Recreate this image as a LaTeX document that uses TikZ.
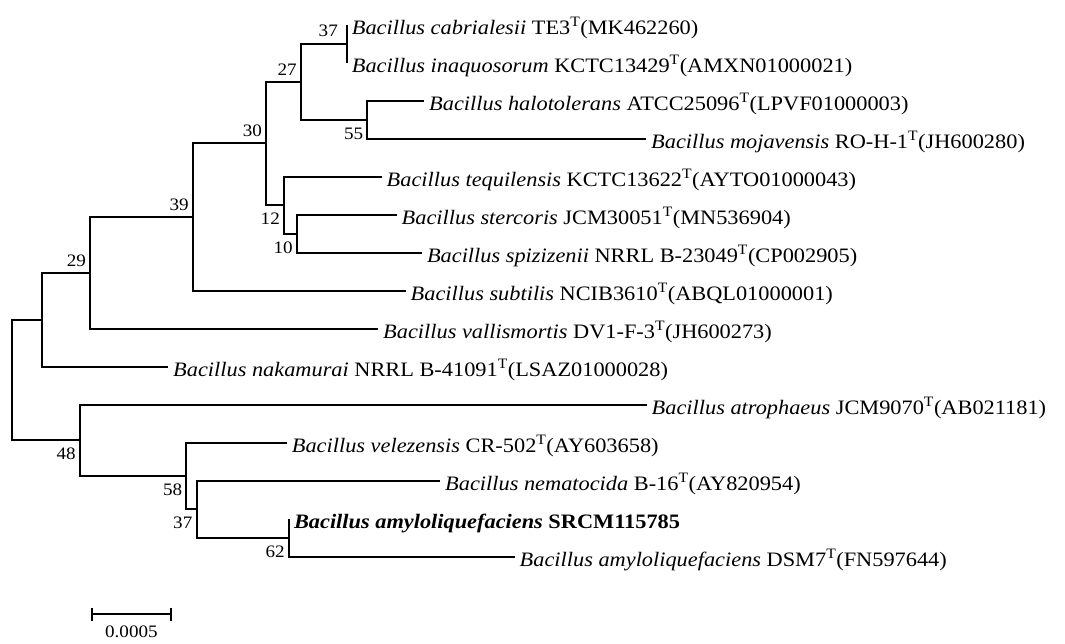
\documentclass[tikz,border=0pt]{standalone}
\usepackage{fontspec}
\setmainfont{Liberation Serif}[FakeStretch=1.09]
\begin{document}
\begin{tikzpicture}[x=1pt,y=-1pt,
  br/.style={line width=2pt, line join=miter},
  leaf/.style={anchor=west, inner xsep=5pt, inner ysep=0pt, text height=19pt, text depth=0pt, font=\fontsize{20.5}{20.5}\selectfont},
  bs/.style={inner sep=0pt, font=\fontsize{17.5}{17.5}\selectfont},
  bsa/.style={anchor=south east, xshift=-4pt, yshift=6pt},
  bsb/.style={anchor=north east, xshift=-4pt, yshift=-8pt}]
\useasboundingbox (0,0) rectangle (1065,643);
% internal nodes
\coordinate (root) at (12.4,379.9);
\coordinate (nA) at (42.4,319.6);
\coordinate (n29) at (90.2,272.7);
\coordinate (n39) at (192.8,216.9);
\coordinate (n30) at (266.2,143.3);
\coordinate (n27) at (300.8,81.5);
\coordinate (n37a) at (346.7,43.5);
\coordinate (n55) at (367.3,119.5);
\coordinate (n12) at (284,205);
\coordinate (n10) at (296.8,233.5);
\coordinate (n48) at (79.9,440.1);
\coordinate (n58) at (186.4,475.75);
\coordinate (n37b) at (196.5,509);
\coordinate (n62) at (288.8,537.5);
% leaves
\node[leaf] (L1) at (346.7,24.5) {\textit{Bacillus cabrialesii} TE3\textsuperscript{T}(MK462260)};
\node[leaf] (L2) at (346.7,62.5) {\textit{Bacillus inaquosorum} KCTC13429\textsuperscript{T}(AMXN01000021)};
\node[leaf] (L3) at (424,100.5) {\textit{Bacillus halotolerans} ATCC25096\textsuperscript{T}(LPVF01000003)};
\node[leaf] (L4) at (646,138.5) {\textit{Bacillus mojavensis} RO-H-1\textsuperscript{T}(JH600280)};
\node[leaf] (L5) at (381.5,176.5) {\textit{Bacillus tequilensis} KCTC13622\textsuperscript{T}(AYTO01000043)};
\node[leaf] (L6) at (396.5,214.5) {\textit{Bacillus stercoris} JCM30051\textsuperscript{T}(MN536904)};
\node[leaf] (L7) at (421.8,252.5) {\textit{Bacillus spizizenii} NRRL B-23049\textsuperscript{T}(CP002905)};
\node[leaf] (L8) at (405.5,290.5) {\textit{Bacillus subtilis} NCIB3610\textsuperscript{T}(ABQL01000001)};
\node[leaf] (L9) at (378,328.5) {\textit{Bacillus vallismortis} DV1-F-3\textsuperscript{T}(JH600273)};
\node[leaf] (L10) at (168,366.5) {\textit{Bacillus nakamurai} NRRL B-41091\textsuperscript{T}(LSAZ01000028)};
\node[leaf] (L11) at (646.5,404.5) {\textit{Bacillus atrophaeus} JCM9070\textsuperscript{T}(AB021181)};
\node[leaf] (L12) at (286.7,442.5) {\textit{Bacillus velezensis} CR-502\textsuperscript{T}(AY603658)};
\node[leaf] (L13) at (440,480.5) {\textit{Bacillus nematocida} B-16\textsuperscript{T}(AY820954)};
\node[leaf] (L14) at (288.8,518.5) {\textbf{\textit{Bacillus amyloliquefaciens} SRCM115785}};
\node[leaf] (L15) at (514.5,556.5) {\textit{Bacillus amyloliquefaciens} DSM7\textsuperscript{T}(FN597644)};
% branches
\draw[br] (root) |- (nA);
\draw[br] (root) |- (n48);
\draw[br] (nA) |- (n29);
\draw[br] (nA) |- (L10.west);
\draw[br] (n29) |- (n39);
\draw[br] (n29) |- (L9.west);
\draw[br] (n39) |- (n30);
\draw[br] (n39) |- (L8.west);
\draw[br] (n30) |- (n27);
\draw[br] (n30) |- (n12);
\draw[br] (n27) |- (n37a);
\draw[br] (n27) |- (n55);
\draw[br] (n37a) |- (L1.west);
\draw[br] (n37a) |- (L2.west);
\draw[br] (n55) |- (L3.west);
\draw[br] (n55) |- (L4.west);
\draw[br] (n12) |- (L5.west);
\draw[br] (n12) |- (n10);
\draw[br] (n10) |- (L6.west);
\draw[br] (n10) |- (L7.west);
\draw[br] (n48) |- (L11.west);
\draw[br] (n48) |- (n58);
\draw[br] (n58) |- (L12.west);
\draw[br] (n58) |- (n37b);
\draw[br] (n37b) |- (L13.west);
\draw[br] (n37b) |- (n62);
\draw[br] (n62) |- (L14.west);
\draw[br] (n62) |- (L15.west);
% bootstrap values
\node[bs, anchor=south east] (b37a) at (338,36.5) {37};
\node[bs, bsa] (b27) at (n27) {27};
\node[bs, bsa] (b30) at (n30) {30};
\node[bs, bsa] (b39) at (n39) {39};
\node[bs, bsa] (b29) at (n29) {29};
\node[bs, bsb] (b12) at (n12) {12};
\node[bs, bsb] (b10) at (n10) {10};
\node[bs, bsb] (b55) at (n55) {55};
\node[bs, bsb] (b48) at (n48) {48};
\node[bs, bsb] (b58) at (n58) {58};
\node[bs, bsb] (b37b) at (n37b) {37};
\node[bs, bsb] (b62) at (n62) {62};
% scale bar
\coordinate (s1) at (92.3,614);
\coordinate (s2) at (170.5,614);
\draw[br] (s1) -- (s2);
\draw[br] ([yshift=6.5pt]s1) -- ([yshift=-6.5pt]s1);
\draw[br] ([yshift=6.5pt]s2) -- ([yshift=-6.5pt]s2);
\node[inner sep=0pt, font=\fontsize{17.5}{17.5}\selectfont] (sl) at (131.4,632) {0.0005};
\end{tikzpicture}
\end{document}
